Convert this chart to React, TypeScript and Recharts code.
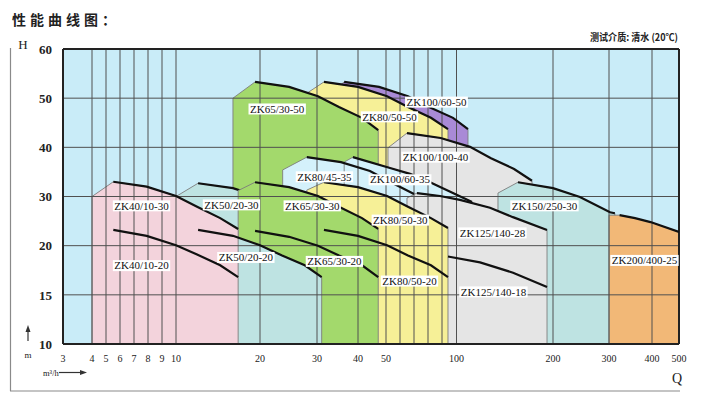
import React from 'react';
import { ComposedChart, Area, XAxis, YAxis, CartesianGrid, ReferenceLine, ReferenceDot } from 'recharts';

type Pt = [number, number];

// ---- axes (the printed axis is unevenly spaced; spacing given per tick) ----
const X_TICK_VALUES = [3, 4, 5, 6, 7, 8, 9, 10, 20, 30, 40, 50, 60, 70, 80, 90, 100, 200, 300, 400, 500];
const X_TICK_SPACING = [0, 29, 43, 57, 71, 85, 99, 113, 197, 254, 295, 323, 337, 351, 365, 379, 393.5, 490, 546, 589, 616];
const X_LABELLED = [3, 4, 5, 6, 7, 8, 9, 10, 20, 30, 40, 50, 100, 200, 300, 400, 500];
const Y_TICK_VALUES = [10, 15, 20, 30, 40, 50, 60];

// ---- pump curves: first point = left corner of region, rest = H-Q curve (Q m3/h, H m) ----
const ZK40_10_30: Pt[] = [[4, 30], [5.5, 33], [7.9, 32], [10, 30.1], [11.9, 27.9], [14.4, 25.6], [16.7, 23.4]];
const ZK40_10_20: Pt[] = [[4, 20], [5.5, 23.2], [7.9, 22], [10, 20.1], [11.9, 19.1], [14.4, 18], [16.7, 16.8]];
const ZK50_20_30: Pt[] = [[10, 30], [12, 32.7], [16, 31.7], [20, 29.9], [23.4, 27.7], [27.5, 25.4], [31, 23.2]];
const ZK50_20_20: Pt[] = [[10, 20], [12, 23.2], [16, 22], [20, 20.1], [23.4, 19], [27.5, 18], [31, 16.8]];
const ZK65_30_50: Pt[] = [[16, 50], [19.2, 53.3], [24.6, 52.3], [30.2, 50.4], [35, 48.2], [41.3, 46], [47, 43.5]];
const ZK65_30_30: Pt[] = [[16.7, 31.2], [19.2, 32.9], [24.6, 31.9], [30.2, 30.1], [35, 27.9], [41.3, 25.6], [47, 23.4]];
const ZK65_30_20: Pt[] = [[16.7, 21.2], [19.2, 23], [24.6, 21.8], [30.2, 20], [35, 19], [41.3, 18], [47, 16.8]];
const ZK80_50_50: Pt[] = [[27.9, 51], [31.5, 53.3], [40, 52.3], [50.7, 50.4], [65.5, 48.2], [82, 46], [94, 43.7]];
const ZK80_50_30: Pt[] = [[27.9, 31.3], [31.5, 32.9], [40, 31.9], [50.7, 30.1], [65.5, 27.9], [82, 25.6], [94, 23.6]];
const ZK80_50_20: Pt[] = [[27.9, 21.6], [31.5, 23.2], [40, 22], [50.7, 20.1], [65.5, 19], [82, 18], [94, 16.8]];
const ZK80_45_35: Pt[] = [[23.5, 35.4], [27.9, 38], [35.5, 37], [44, 35.2], [53.3, 32.9], [70, 30.5]];
const ZK100_60_50: Pt[] = [[34.8, 52.3], [36.3, 53.3], [47.3, 52.3], [65.5, 50.4], [80.7, 48.2], [97.5, 46], [108.6, 43.7]];
const ZK100_60_35: Pt[] = [[36.3, 37], [38.6, 38], [52.7, 35.8], [67, 34.6], [81.4, 32.9], [111.8, 28.9]];
const ZK100_100_40: Pt[] = [[51.3, 39.9], [64.8, 42.9], [89, 41.9], [110.2, 40.1], [128.1, 37.8], [151.2, 35.6], [172, 33.2]];
const ZK125_140_28: Pt[] = [[64.8, 29.7], [72, 30.7], [88.5, 30.1], [102.5, 29.3], [127.2, 27.7], [150, 25.8], [191.6, 23.2]];
const ZK125_140_18: Pt[] = [[94, 18.9], [94, 18.9], [118.4, 18.3], [150.1, 17.25], [191.6, 15.8]];
const ZK150_250_30: Pt[] = [[134.7, 30.7], [155.5, 32.9], [200, 31.7], [243, 29.9], [302, 26.8], [312, 26.6]];
const ZK200_400_25: Pt[] = [[300, 26.2], [322, 26.2], [357, 25.6], [396, 24.8], [500, 22.8]];

// ---- model labels (anchor at Q, H) ----
const LABEL_NAMES = ['ZK40/10-30', 'ZK40/10-20', 'ZK50/20-30', 'ZK50/20-20', 'ZK65/30-50', 'ZK80/50-50', 'ZK100/60-50',
  'ZK100/100-40', 'ZK80/45-35', 'ZK100/60-35', 'ZK65/30-30', 'ZK80/50-30', 'ZK65/30-20', 'ZK80/50-20',
  'ZK125/140-28', 'ZK125/140-18', 'ZK150/250-30', 'ZK200/400-25'];
const LABEL_Q = [7.52, 7.52, 15.8, 17.8, 22.6, 52.3, 85.9, 85.2, 31.6, 60, 29.0, 60.2, 33.9, 66.6, 129.5, 130.4, 188.1, 380.4];
const LABEL_H = [28.1, 17.97, 28.3, 18.8, 47.8, 46.2, 49.2, 38.0, 34.0, 33.4, 28.1, 25.2, 18.4, 16.4, 22.6, 15.3, 28.1, 18.5];

const C = {
  bg: '#C9ECF8', pink: '#F3D3DC', teal: '#BEE3E2', green: '#A3D96C', yellow: '#F6F097',
  purple: '#A98AD6', gray: '#E5E5E5', orange: '#F2B877', light: '#D4F1FB',
};

function qpos(q: number): number {
  const v = X_TICK_VALUES, s = X_TICK_SPACING;
  if (q <= v[0]) return s[0];
  for (let i = 0; i < v.length - 1; i++) {
    if (q <= v[i + 1]) {
      const f = Math.log(q / v[i]) / Math.log(v[i + 1] / v[i]);
      return s[i] + f * (s[i + 1] - s[i]);
    }
  }
  return s[s.length - 1];
}
function hpos(h: number): number {
  const v = Y_TICK_VALUES;
  if (h <= v[0]) return 0;
  for (let i = 0; i < v.length - 1; i++) {
    if (h <= v[i + 1]) return i + (h - v[i]) / (v[i + 1] - v[i]);
  }
  return v.length - 1;
}
const polygon = (pts: Pt[]) => {
  const first = pts[0], last = pts[pts.length - 1];
  return [
    { x: qpos(first[0]), y: 0 },
    ...pts.map((p) => ({ x: qpos(p[0]), y: hpos(p[1]) })),
    { x: qpos(last[0]), y: 0 },
  ];
};
const curve = (pts: Pt[]) => pts.slice(1).map((p) => ({ x: qpos(p[0]), y: hpos(p[1]) }));

// fill layers, bottom to top
const FILLS: { pts: Pt[]; color: string; ownCurve?: boolean }[] = [
  { pts: ZK100_60_50, color: C.purple },
  { pts: ZK80_50_50, color: C.yellow },
  { pts: ZK100_100_40, color: C.gray },
  { pts: ZK150_250_30, color: C.teal },
  { pts: ZK200_400_25, color: C.orange },
  { pts: ZK65_30_50, color: C.green },
  { pts: ZK50_20_30, color: C.teal, ownCurve: true },
  { pts: ZK80_45_35, color: C.light },
  { pts: ZK100_60_35, color: C.light },
  { pts: ZK125_140_28, color: C.gray },
  { pts: ZK80_50_30, color: C.yellow },
  { pts: ZK65_30_30, color: C.green },
  { pts: ZK50_20_20, color: C.teal },
  { pts: ZK40_10_30, color: C.pink },
];
const TOP_CURVES: Pt[][] = [
  ZK100_60_50, ZK80_50_50, ZK100_100_40, ZK150_250_30, ZK200_400_25, ZK65_30_50, ZK80_45_35, ZK100_60_35,
  ZK125_140_28, ZK125_140_18, ZK80_50_30, ZK80_50_20, ZK65_30_30, ZK65_30_20, ZK50_20_20, ZK40_10_30, ZK40_10_20,
];

const SERIF = '"Liberation Serif", "Times New Roman", serif';
const CJK = '"Noto Sans CJK SC", "Noto Sans", sans-serif';

const CW: Record<string, number> = { Z: 6.1, K: 7.2, '/': 2.8, '-': 3.3 };
const textW = (s: string, fs: number) => s.split('').reduce((a, ch) => a + (CW[ch] ?? 5.0), 0) * fs / 10;

const LabelBox = ({ cx, cy, text }: { cx: number; cy: number; text: string }) => {
  const fs = 11;
  const w = textW(text, fs) + 3;
  return (
    <g>
      <rect x={cx - w / 2} y={cy - 5.5} width={w} height={11} fill="#ffffff" />
      <text x={cx} y={cy + 3.7} textAnchor="middle" fontSize={fs} fontFamily={SERIF} fill="#111">{text}</text>
    </g>
  );
};

const XTick = (props: any) => {
  const { x, y, payload } = props;
  let best = 0;
  X_LABELLED.forEach((v, i) => {
    if (Math.abs(qpos(v) - payload.value) < Math.abs(qpos(X_LABELLED[best]) - payload.value)) best = i;
  });
  return (
    <text x={x} y={y} dy="0.71em" textAnchor="middle" fontSize={10} fontFamily={SERIF} fill="#222">
      {X_LABELLED[best]}
    </text>
  );
};
const YTick = (props: any) => {
  const { x, y, payload } = props;
  const label = Y_TICK_VALUES[Math.round(payload.value)];
  return (
    <text x={x} y={y} dy="0.36em" textAnchor="end" fontSize={13} fontWeight="bold" fontFamily={SERIF} fill="#222">
      {label}
    </text>
  );
};

const Decorations = () => (
  <svg width={705} height={396} style={{ position: 'absolute', left: 0, top: 0, pointerEvents: 'none' }}>
    <text x={12} y={25} fontSize={14} fontWeight="bold" fontFamily={CJK} letterSpacing={4} fill="#222">性能曲线图：</text>
    <text x={590} y={41} fontSize={10} fontWeight="bold" fontFamily={CJK} fill="#222" textLength={88} lengthAdjust="spacingAndGlyphs">测试介质: 清水 (20℃)</text>
    <text x={23} y={49} fontSize={13} textAnchor="middle" fontFamily={SERIF} fill="#222">H</text>
    <line x1={10.5} y1={48} x2={10.5} y2={391} stroke="#8a8a8a" strokeWidth={1.2} />
    <line x1={10} y1={391} x2={680} y2={391} stroke="#8a8a8a" strokeWidth={1.2} />
    <line x1={28} y1={341} x2={28} y2={331} stroke="#333" strokeWidth={1.2} />
    <polygon points="28,325 25.5,332 30.5,332" fill="#333" />
    <text x={28} y={358} fontSize={9} textAnchor="middle" fontFamily={SERIF} fill="#222">m</text>
    <text x={43} y={376} fontSize={8.5} fontFamily={SERIF} fill="#222">m³/h</text>
    <line x1={59} y1={372.5} x2={81} y2={372.5} stroke="#333" strokeWidth={1.2} />
    <polygon points="87,372.5 80,370 80,375" fill="#333" />
    <text x={677} y={383} fontSize={14} textAnchor="middle" fontFamily={SERIF} fill="#222">Q</text>
  </svg>
);

export default function App() {
  const xGrid = X_TICK_VALUES.slice(1, -1);
  const yGrid = Y_TICK_VALUES.slice(1, -1);
  return (
    <div style={{ position: 'absolute', left: 0, top: 0, width: 705, height: 396, background: '#fff' }}>
      <ComposedChart width={705} height={396} margin={{ top: 49, right: 26, bottom: 22, left: 13 }}>
        <CartesianGrid fill={C.bg} fillOpacity={1} horizontal={false} vertical={false} stroke="none" />
        <XAxis
          type="number" dataKey="x" domain={[0, 616]} allowDataOverflow
          ticks={X_LABELLED.map(qpos)} interval={0} height={30}
          tick={<XTick />} tickLine={false} tickSize={0} tickMargin={11}
          axisLine={{ stroke: '#222', strokeWidth: 2 }}
        />
        <YAxis
          type="number" domain={[0, 6]} allowDataOverflow ticks={[0, 1, 2, 3, 4, 5, 6]} interval={0} width={50}
          tick={<YTick />} tickLine={false} tickSize={0} tickMargin={11}
          axisLine={{ stroke: '#222', strokeWidth: 2 }}
        />
        {FILLS.flatMap((f, i) => {
          const els = [
            <Area
              key={`f${i}`} data={polygon(f.pts)} dataKey="y" type="linear" baseValue={0}
              fill={f.color} fillOpacity={1} stroke="#7d7d7d" strokeWidth={0.9}
              dot={false} activeDot={false} isAnimationActive={false} legendType="none" zIndex={100 + i * 2}
            />,
          ];
          if (f.ownCurve) {
            els.push(
              <Area
                key={`fc${i}`} data={curve(f.pts)} dataKey="y" type="linear"
                fill="none" fillOpacity={0} stroke="#111" strokeWidth={2.2}
                dot={false} activeDot={false} isAnimationActive={false} legendType="none" zIndex={101 + i * 2}
              />
            );
          }
          return els;
        })}
        {xGrid.map((v) => (
          <ReferenceLine key={`gx${v}`} x={qpos(v)} stroke="#505050" strokeWidth={1} zIndex={300} />
        ))}
        {yGrid.map((v) => (
          <ReferenceLine key={`gy${v}`} y={hpos(v)} stroke="#505050" strokeWidth={1} zIndex={300} />
        ))}
        <ReferenceLine y={6} stroke="#222" strokeWidth={2} zIndex={310} />
        <ReferenceLine x={616} stroke="#222" strokeWidth={2} zIndex={310} />
        {TOP_CURVES.map((pts, i) => (
          <Area
            key={`c${i}`} data={curve(pts)} dataKey="y" type="linear"
            fill="none" fillOpacity={0} stroke="#111" strokeWidth={2.2}
            dot={false} activeDot={false} isAnimationActive={false} legendType="none" zIndex={400}
          />
        ))}
        {LABEL_NAMES.map((name, i) => (
          <ReferenceDot
            key={`l${i}`} x={qpos(LABEL_Q[i])} y={hpos(LABEL_H[i])} r={1} ifOverflow="visible" zIndex={600}
            shape={(p: any) => <LabelBox cx={p.cx} cy={p.cy} text={name} />}
          />
        ))}
      </ComposedChart>
      <Decorations />
    </div>
  );
}
